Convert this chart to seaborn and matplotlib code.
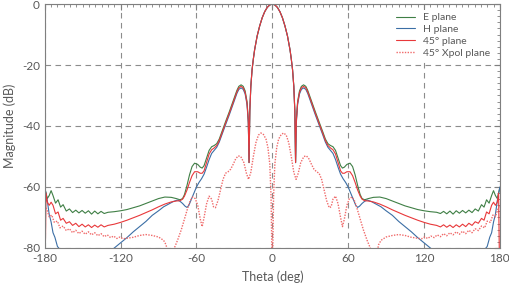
import numpy as np
import pandas as pd
import matplotlib
matplotlib.use("Agg")
import matplotlib.pyplot as plt
import seaborn as sns

# half patterns (theta >= 0); the pattern is symmetric
beam_theta = [0, 2, 4, 6, 8, 10, 12, 14, 15, 16, 17, 17.8, 18.4]
beam_db = [0, -0.3, -1.1, -2.5, -4.5, -7.2, -10.5, -15, -18, -21.5, -27, -35, -52]

side_theta = [19, 20, 21.5, 23, 24.7, 26.5, 28, 31, 34, 37, 40, 42, 44, 46, 48, 50, 52, 54,
              55.5, 57, 59, 61.5, 63.5, 65.5, 67.5, 69.5, 71, 73, 76, 80, 85, 90, 95, 100,
              105, 110, 115, 120, 125, 130, 133, 135.5, 138, 140.5, 143, 145.5, 148, 150.5,
              153, 155.5, 158, 160.5, 163, 165.5, 167.5, 169.5, 171.5, 173.5, 175, 176.5,
              178, 179, 180]
e_side = [-38, -32, -28.5, -27, -26.5, -27, -28.3, -31.8, -35.3, -38.6, -42, -44.3, -45.8,
          -46.4, -46.8, -48, -50.5, -53, -53.8, -53.5, -52.6, -52.2, -53.3, -56, -59.5, -62.5,
          -63.8, -64.2, -63.8, -63.4, -63.3, -63.8, -64.6, -65.4, -66.2, -66.8, -67.4, -67.8,
          -68.1, -68.3, -68.7, -68.0, -68.8, -67.9, -68.9, -67.8, -68.6, -67.7, -68.5, -67.6,
          -68.4, -67.2, -67.9, -65.8, -66.6, -64.2, -65.3, -62.8, -61.2, -62.8, -63.8, -62,
          -60.3]
d45_side = [-38.5, -32.5, -29, -27.5, -27, -27.5, -28.8, -32.3, -35.8, -39.1, -42.5, -44.8,
            -46.4, -47.2, -47.8, -49.2, -52, -54.7, -55.5, -55.5, -55, -55, -56.3, -58.5, -61,
            -63, -64, -64.5, -64.6, -64.9, -65.6, -66.5, -67.5, -68.4, -69.3, -70.1, -70.9,
            -71.6, -72.2, -72.6, -73.1, -72.4, -73.2, -72.5, -73.3, -72.4, -73.1, -72.2,
            -73.0, -71.9, -72.6, -71.4, -71.9, -70.3, -70.9, -68.2, -68.8, -66, -65, -66,
            -65, -62, -95]

h_theta = [19, 20, 21.5, 23, 24.7, 26.5, 28, 31, 34, 37, 40, 42, 44, 46, 48, 50, 52, 54, 56,
           58, 60, 62, 64, 66, 67.5, 69, 71, 73, 75, 78, 82, 86, 90, 95, 100, 105, 110, 115,
           120, 125, 130, 140, 150, 160, 165, 168, 170, 172, 173.5, 175, 176.5, 178, 180]
h_side = [-39, -33, -29.5, -28, -27.5, -28, -29.3, -32.8, -36.3, -39.6, -43, -45.3, -47, -48,
          -49, -51, -53.5, -55.8, -57.3, -58.5, -60, -62, -64, -66, -66.7, -66.3, -65.4, -64.7,
          -64.3, -64.7, -65.6, -66.5, -67.8, -69.3, -71.3, -73, -74.7, -76.6, -78.3, -80,
          -81.5, -84, -85, -84, -82, -80.5, -79.5, -76.5, -75, -71.5, -69, -64.5, -60]

x_theta = [0, 0.4, 1, 2, 3.5, 5, 7, 9, 11, 13, 15, 17, 18.8, 20.5, 22.5, 25, 27, 29, 31, 33,
           35, 37, 39, 41, 43, 45, 46.5, 48, 50, 52, 54, 55.5, 57, 59, 61, 63, 65, 67, 69.5,
           72, 75, 78, 80, 82, 84, 86, 90, 95, 100, 105, 110, 115, 118, 120.5, 123, 125.5,
           128, 130.5, 133, 135.5, 138, 140.5, 143, 145.5, 148, 150.5, 153, 155.5, 158,
           160.5, 163, 165.5, 168, 170, 172.5, 174.5, 176.5, 178, 179.3, 180]
x_db = [-110, -80, -63, -52.5, -47, -44.3, -42.8, -42.3, -43, -45.5, -50, -55.2, -57.5, -55.5,
        -52, -50, -49.8, -50.8, -52.6, -54.2, -55, -55.5, -57.5, -61, -64.5, -66.8, -66.5,
        -64, -63, -65.5, -70, -73, -70.5, -66, -63.8, -63.3, -64.5, -67, -70.5, -74, -77.5,
        -80.5, -88, -84, -79, -77.5, -76.4, -75.9, -75.6, -75.9, -76.5, -76.8, -77.0, -76.4,
        -76.9, -76.1, -76.6, -75.7, -76.3, -75.3, -76.0, -75.0, -75.7, -74.7, -75.5, -74.5,
        -75.3, -74.2, -75.0, -73.7, -74.3, -72.8, -73.4, -71.2, -71.6, -69.2, -69.8, -67.8,
        -66.5, -66]


def mirror(t, v):
    t = np.asarray(t, float)
    v = np.asarray(v, float)
    return np.concatenate([-t[::-1], t[1:]]), np.concatenate([v[::-1], v[1:]])


e_t, e_v = mirror(beam_theta + side_theta, beam_db + e_side)
h_t, h_v = mirror(beam_theta + h_theta, beam_db + h_side)
d_t, d_v = mirror(beam_theta + side_theta, beam_db + d45_side)
x_t, x_v = mirror(x_theta, x_db)

sns.set_style("white")
plt.rcParams["font.family"] = ["Lato", "DejaVu Sans"]
plt.rcParams["axes.unicode_minus"] = False

txt = "#595959"
fig = plt.figure(figsize=(5.09, 2.87), dpi=100)
ax = fig.add_axes([0.088, 0.136, 0.894, 0.850])
ax.set_axisbelow(True)

sns.lineplot(x=e_t, y=e_v, ax=ax, sort=False, color="#3f7f45", lw=0.8, label="E plane")
sns.lineplot(x=h_t, y=h_v, ax=ax, sort=False, color="#3b6ea5", lw=0.8, label="H plane")
sns.lineplot(x=d_t, y=d_v, ax=ax, sort=False, color="#e8383a", lw=0.8, label="45° plane")
sns.lineplot(x=x_t, y=x_v, ax=ax, sort=False, color="#f06a6a", lw=1.0, ls=(0, (1, 1)),
             label="45° Xpol plane")

ax.set_xlim(-180, 180)
ax.set_ylim(-80, 0)
ax.set_xticks(np.arange(-180, 181, 60))
ax.set_yticks(np.arange(-80, 1, 20))
ax.set_xticks(np.arange(-180, 181, 5), minor=True)
ax.set_yticks(np.arange(-80, 1, 2), minor=True)
ax.grid(True, which="major", ls=(0, (5, 4)), color="#8c8c8c", lw=0.8)
ax.tick_params(which="both", direction="in", top=True, right=True, colors="#7f7f7f",
               labelcolor=txt, labelsize=8.5)
ax.tick_params(which="major", length=4)
ax.tick_params(which="minor", length=2.5)
for s in ax.spines.values():
    s.set_color("#7f7f7f")
    s.set_linewidth(0.8)

ax.set_xlabel("Theta (deg)", color=txt, fontsize=9, labelpad=5)
ax.set_ylabel("Magnitude (dB)", color=txt, fontsize=9, labelpad=4)

leg = ax.legend(loc="upper right", bbox_to_anchor=(0.99, 0.985), frameon=True,
                facecolor="white", edgecolor="none", framealpha=1, fancybox=False,
                fontsize=7.5, handlelength=1.8, labelspacing=0.25, handletextpad=0.8,
                borderpad=0.3, borderaxespad=0.2)
for t in leg.get_texts():
    t.set_color(txt)

fig.savefig("out.png", dpi=100)
